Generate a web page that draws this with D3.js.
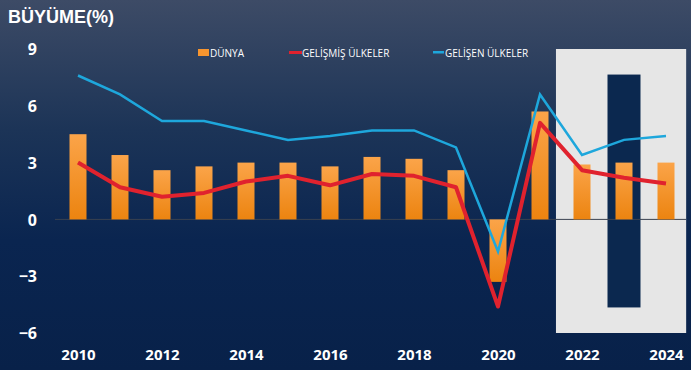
<!DOCTYPE html>
<html><head><meta charset="utf-8">
<script src="https://cdn.jsdelivr.net/npm/d3@7"></script>
<style>html,body{margin:0;padding:0;background:#0a2450;}svg{display:block;}</style>
</head><body>
<script>
const years = [2010,2011,2012,2013,2014,2015,2016,2017,2018,2019,2020,2021,2022,2023,2024];
const dunya = [4.5,3.4,2.6,2.8,3.0,3.0,2.8,3.3,3.2,2.6,-3.3,5.7,2.9,3.0,3.0];
const gelismis = [3.0,1.7,1.2,1.4,2.0,2.3,1.8,2.4,2.3,1.7,-4.6,5.1,2.6,2.2,1.9];
const gelisen = [7.6,6.6,5.2,5.2,4.7,4.2,4.4,4.7,4.7,3.8,-1.7,6.6,3.4,4.2,4.4];
const yTicks = [9,6,3,0,-3,-6];
const xTicks = [2010,2012,2014,2016,2018,2020,2022,2024];
const seriesNames = ["DÜNYA","GELİŞMİŞ ÜLKELER","GELİŞEN ÜLKELER"];

const W=691,H=370;
const svg=d3.select("body").append("svg").attr("width",W).attr("height",H);
const defs=svg.append("defs");
const bg=defs.append("linearGradient").attr("id","bg").attr("x1",0).attr("y1",0).attr("x2",0).attr("y2",1);
bg.append("stop").attr("offset","0%").attr("stop-color","#3d4b66");
bg.append("stop").attr("offset","35%").attr("stop-color","#1c3457");
bg.append("stop").attr("offset","65%").attr("stop-color","#0a2550");
bg.append("stop").attr("offset","100%").attr("stop-color","#082149");
const bar=defs.append("linearGradient").attr("id","bar").attr("x1",0).attr("y1",0).attr("x2",0).attr("y2",1);
bar.append("stop").attr("offset","0%").attr("stop-color","#fba449");
bar.append("stop").attr("offset","100%").attr("stop-color","#ec8410");

svg.append("rect").attr("width",W).attr("height",H).attr("fill","url(#bg)");

const x=d3.scaleLinear().domain([2010,2024]).range([78,666]);
const y=d3.scaleLinear().domain([-6,9]).range([333,49]);

// forecast box
svg.append("rect").attr("x",x(2021.38)).attr("y",y(9)).attr("width",x(2024.48)-x(2021.38)).attr("height",y(-6)-y(9)).attr("fill","#e6e6e6");
svg.append("rect").attr("x",x(2023)-16.5).attr("y",y(7.65)).attr("width",33).attr("height",y(-4.65)-y(7.65)).attr("fill","#0b284f");

// zero line
svg.append("line").attr("x1",55).attr("x2",686).attr("y1",y(0)).attr("y2",y(0)).attr("stroke","#3a4150").attr("stroke-width",1);

// bars
const bw=17;
svg.selectAll("rect.b").data(years).enter().append("rect").attr("class","b")
 .attr("x",d=>x(d)-bw/2).attr("width",bw)
 .attr("y",(d,i)=>y(Math.max(0,dunya[i]))).attr("height",(d,i)=>Math.abs(y(dunya[i])-y(0)))
 .attr("fill","url(#bar)");

const line=d3.line().x(d=>x(d[0])).y(d=>y(d[1]));
svg.append("path").datum(years.map((d,i)=>[d,gelisen[i]])).attr("d",line).attr("fill","none").attr("stroke","#1ea7dc").attr("stroke-width",2.5).attr("stroke-linejoin","miter");
svg.append("path").datum(years.map((d,i)=>[d,gelismis[i]])).attr("d",line).attr("fill","none").attr("stroke","#e0222e").attr("stroke-width",4).attr("stroke-linejoin","round");

// y axis
const yAx=svg.append("g").attr("transform","translate(40,0)").call(d3.axisLeft(y).tickValues(yTicks).tickSize(0).tickFormat(d3.format("d")));
yAx.select(".domain").remove();
yAx.selectAll("text").attr("fill","#fff").attr("font-family","'Open Sans',sans-serif").attr("font-weight","bold").attr("font-size","16px").attr("dx","0").attr("dy","0.35em");
// x axis
const xAx=svg.append("g").attr("transform","translate(0,346)").call(d3.axisBottom(x).tickValues(xTicks).tickSize(0).tickFormat(d3.format("d")));
xAx.select(".domain").remove();
xAx.selectAll("text").attr("fill","#fff").attr("font-family","'Open Sans',sans-serif").attr("font-weight","bold").attr("font-size","15px");

// title
svg.append("text").attr("x",8).attr("y",23).text("BÜYÜME(%)").attr("fill","#fff").attr("font-family","'Liberation Sans',Arial,sans-serif").attr("font-weight","bold").attr("font-size","18px");

// legend
const lg=svg.append("g").attr("font-family","'Open Sans',sans-serif").attr("font-size","10px").attr("fill","#fff");
lg.append("rect").attr("x",198).attr("y",49).attr("width",11).attr("height",7).attr("fill","#f7952f");
lg.append("text").attr("x",210).attr("y",56.5).text(seriesNames[0]);
lg.append("rect").attr("x",289).attr("y",51).attr("width",13).attr("height",3).attr("fill","#e0222e");
lg.append("text").attr("x",302).attr("y",56.5).text(seriesNames[1]);
lg.append("rect").attr("x",433).attr("y",51).attr("width",11).attr("height",2.5).attr("fill","#1ea7dc");
lg.append("text").attr("x",445).attr("y",56.5).text(seriesNames[2]);
</script>
</body></html>
